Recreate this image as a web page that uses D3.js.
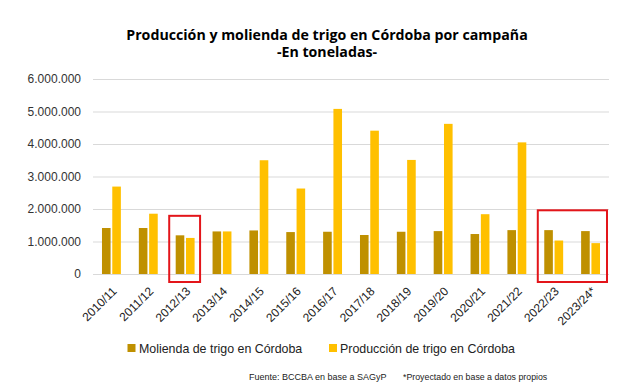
<!DOCTYPE html>
<html>
<head>
<meta charset="utf-8">
<script src="https://cdn.jsdelivr.net/npm/d3@7"></script>
<style>
  html, body { margin: 0; padding: 0; background: #fff; }
  svg { display: block; }
</style>
</head>
<body>
<svg id="chart" width="628" height="389"></svg>
<script>
const campaigns = ["2010/11", "2011/12", "2012/13", "2013/14", "2014/15", "2015/16", "2016/17",
  "2017/18", "2018/19", "2019/20", "2020/21", "2021/22", "2022/23", "2023/24*"];
const molienda = [1415000, 1415000, 1190000, 1310000, 1340000, 1290000, 1300000,
  1200000, 1300000, 1320000, 1230000, 1350000, 1350000, 1320000];
const produccion = [2690000, 1855000, 1110000, 1310000, 3500000, 2630000, 5080000,
  4410000, 3510000, 4620000, 1840000, 4050000, 1030000, 950000];
const yTicks = [0, 1000000, 2000000, 3000000, 4000000, 5000000, 6000000];
const seriesNames = ["Molienda de trigo en Córdoba", "Producción de trigo en Córdoba"];
const highlighted = [["2012/13"], ["2022/23", "2023/24*"]];

const svg = d3.select("#chart");
const width = +svg.attr("width");
const height = +svg.attr("height");
const colors = ["#bf9000", "#ffc000"];
const font = "'Liberation Sans', Arial, sans-serif";

const margin = { top: 79, right: 19, bottom: 115, left: 93 };
const innerWidth = width - margin.left - margin.right;
const innerHeight = height - margin.top - margin.bottom;

const root = svg.append("g").attr("transform", `translate(${margin.left}, ${margin.top})`);

const x = d3.scaleBand().domain(campaigns).range([0, innerWidth]).padding(0);
const y = d3.scaleLinear().domain([0, 6000000]).range([innerHeight, 0]);
const fmt = v => d3.format(",")(v).replace(/,/g, ".");

// title
[["Producción y molienda de trigo en Córdoba por campaña", 40],
 ["-En toneladas-", 57]].forEach(([t, ty]) => {
  svg.append("text")
    .attr("x", 327).attr("y", ty)
    .attr("text-anchor", "middle")
    .attr("font-family", "'Open Sans', sans-serif")
    .attr("font-weight", 700)
    .attr("font-size", 14.2)
    .attr("fill", "#000")
    .text(t);
});

// grid
root.append("g")
  .call(d3.axisLeft(y).tickValues(yTicks).tickSize(-innerWidth).tickFormat(""))
  .call(s => s.select(".domain").remove())
  .call(s => s.selectAll("line").attr("stroke", "#d9d9d9").attr("stroke-width", 1));

// y labels
root.append("g")
  .selectAll("text")
  .data(yTicks)
  .join("text")
  .attr("x", -12)
  .attr("y", d => y(d))
  .attr("dy", "0.35em")
  .attr("text-anchor", "end")
  .attr("font-family", font).attr("font-size", 12).attr("fill", "#333")
  .text(fmt);

// bars
const barW = 8.6;
const gap = 1.7;
const groups = root.selectAll("g.cat")
  .data(campaigns)
  .join("g")
  .attr("class", "cat")
  .attr("transform", d => `translate(${x(d) + x.bandwidth() / 2}, 0)`);

groups.append("rect")
  .attr("x", -barW - gap / 2)
  .attr("y", (d, i) => y(molienda[i]))
  .attr("width", barW)
  .attr("height", (d, i) => innerHeight - y(molienda[i]))
  .attr("fill", colors[0]);

groups.append("rect")
  .attr("x", gap / 2)
  .attr("y", (d, i) => y(produccion[i]))
  .attr("width", barW)
  .attr("height", (d, i) => innerHeight - y(produccion[i]))
  .attr("fill", colors[1]);

// x labels
root.append("g")
  .selectAll("text")
  .data(campaigns)
  .join("text")
  .attr("text-anchor", "end")
  .attr("dy", "0.35em")
  .attr("transform", d => `translate(${x(d) + x.bandwidth() / 2 + 3}, ${innerHeight + 15}) rotate(-45)`)
  .attr("font-family", font).attr("font-size", 12).attr("fill", "#222")
  .text(d => d);

// highlight boxes
const boxTops = [1790000, 1960000];
highlighted.forEach((cats, k) => {
  const x0 = x(cats[0]) + 2.5;
  const x1 = x(cats[cats.length - 1]) + x.bandwidth() - (k === 0 ? 3.5 : 2);
  root.append("rect")
    .attr("x", x0)
    .attr("y", y(boxTops[k]))
    .attr("width", x1 - x0)
    .attr("height", innerHeight + 8 - y(boxTops[k]))
    .attr("fill", "none")
    .attr("stroke", "#e3151a")
    .attr("stroke-width", 2);
});

// legend
const legendItems = [
  { x: 127.5, textX: 139, label: seriesNames[0], color: colors[0] },
  { x: 329, textX: 340, label: seriesNames[1], color: colors[1] }
];
const legend = svg.append("g");
legendItems.forEach(item => {
  legend.append("rect")
    .attr("x", item.x).attr("y", 344)
    .attr("width", 8).attr("height", 8)
    .attr("fill", item.color);
  legend.append("text")
    .attr("x", item.textX).attr("y", 353)
    .attr("font-family", font).attr("font-size", 12.4)
    .attr("fill", "#222")
    .text(item.label);
});

// notes
svg.append("text")
  .attr("x", 249).attr("y", 380)
  .attr("font-family", font).attr("font-size", 9)
  .attr("fill", "#222")
  .text("Fuente: BCCBA en base a SAGyP");
svg.append("text")
  .attr("x", 403).attr("y", 380)
  .attr("font-family", font).attr("font-size", 8.8)
  .attr("fill", "#222")
  .text("*Proyectado en base a datos propios");
</script>
</body>
</html>
